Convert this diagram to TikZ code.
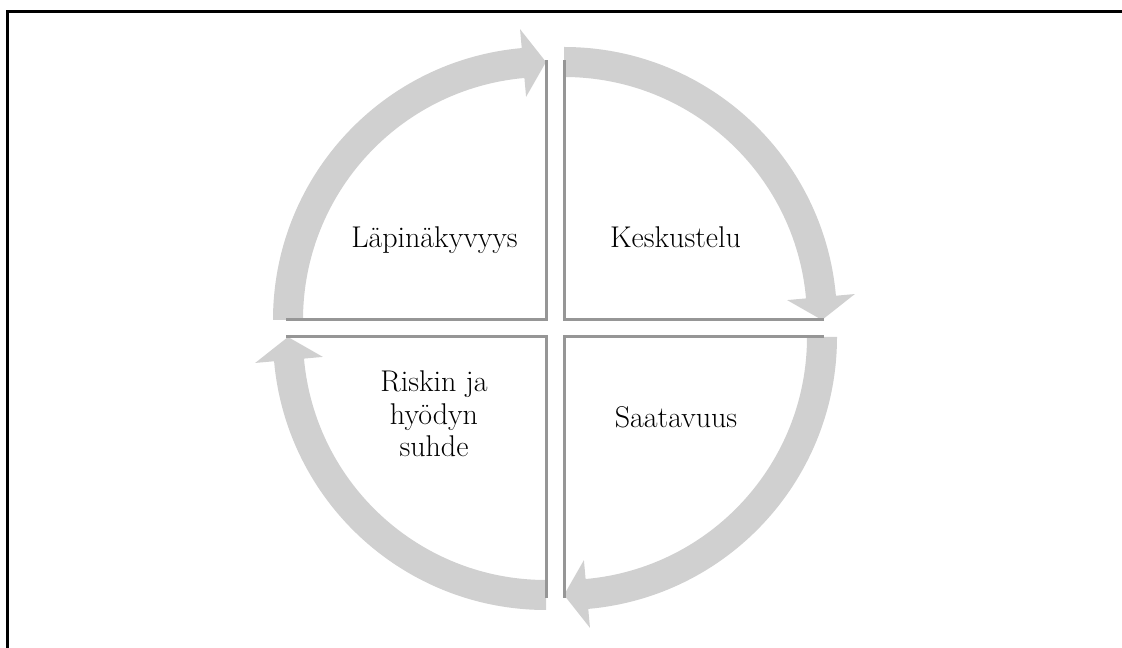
\documentclass[tikz,border=0pt]{standalone}
\usetikzlibrary{calc}
\definecolor{bandgray}{RGB}{208,208,208}
\definecolor{edgegray}{RGB}{150,150,150}

\begin{document}
\begin{tikzpicture}[x=1pt,y=1pt,
  band/.style={fill=bandgray},
  edge/.style={draw=edgegray,line width=3pt},
  every node/.style={font=\fontsize{30}{32.5}\selectfont,align=center,inner sep=0pt,anchor=base}]
  \useasboundingbox (0,0) rectangle (1122,648);
  % frame
  \draw[line width=3pt] (7,-10) -- (7,636) -- (1140,636);
  % quadrant corners
  \coordinate (ctl) at (546,328);
  \coordinate (ctr) at (564,328);
  \coordinate (cbl) at (546,311);
  \coordinate (cbr) at (564,311);
  % circular arrows
  \fill[band,shift={(ctr)}] (90:273) arc[start angle=90,end angle=5.1,radius=273]
    -- (5.1:292) -- (0:258) -- (5.1:224) -- (5.1:243)
    arc[start angle=5.1,end angle=90,radius=243] -- cycle;
  \fill[band,shift={(ctl)}] (180:273) arc[start angle=180,end angle=95.1,radius=273]
    -- (95.1:292) -- (90:258) -- (95.1:224) -- (95.1:243)
    arc[start angle=95.1,end angle=180,radius=243] -- cycle;
  \fill[band,shift={(cbr)}] (0:273) arc[start angle=0,end angle=-84.9,radius=273]
    -- (-84.9:292) -- (-90:258) -- (-84.9:224) -- (-84.9:243)
    arc[start angle=-84.9,end angle=0,radius=243] -- cycle;
  \fill[band,shift={(cbl)}] (-90:273) arc[start angle=-90,end angle=-174.9,radius=273]
    -- (-174.9:292) -- (-180:258) -- (-174.9:224) -- (-174.9:243)
    arc[start angle=-174.9,end angle=-90,radius=243] -- cycle;
  % quadrant edges
  \draw[edge] ($(ctl)+(-260,0)$) -- (ctl) -- ($(ctl)+(0,260)$);
  \draw[edge] ($(ctr)+(260,0)$) -- (ctr) -- ($(ctr)+(0,260)$);
  \draw[edge] ($(cbl)+(-260,0)$) -- (cbl) -- ($(cbl)+(0,-261)$);
  \draw[edge] ($(cbr)+(260,0)$) -- (cbr) -- ($(cbr)+(0,-261)$);
  % labels
  \node (lapi) at (434.5,400) {Läpinäkyvyys};
  \node (kesk) at (675.5,400) {Keskustelu};
  \node (saat) at (676,220) {Saatavuus};
  \node (risk) at (434,191) {Riskin ja\\hyödyn\\suhde};
\end{tikzpicture}
\end{document}
